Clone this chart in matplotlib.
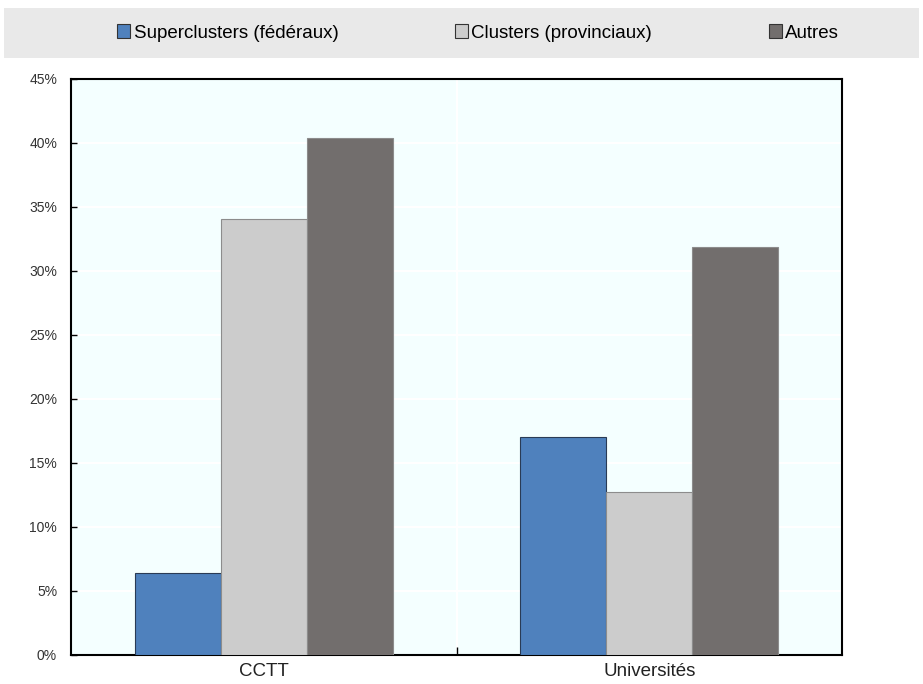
import numpy as np
import matplotlib.pyplot as plt
from matplotlib.patches import Rectangle, Patch
from matplotlib.ticker import MultipleLocator, PercentFormatter

plt.rcParams['font.family'] = ['Liberation Sans', 'DejaVu Sans']

categories = ['CCTT', 'Universités']
series = ['Superclusters (fédéraux)', 'Clusters (provinciaux)', 'Autres']
superclusters = [6.4, 17.0]
clusters = [34.1, 12.7]
autres = [40.4, 31.9]

colors = ['#4F81BD', '#CCCCCC', '#726E6D']
edges = ['#2A3B55', '#8C8C8C', '#8C8C8C']

fig = plt.figure(figsize=(9.23, 6.84), dpi=100)
ax = fig.add_axes([71 / 923, 1 - 655 / 684, 771 / 923, 576 / 684])
ax.set_facecolor('#F4FFFF')

x = np.arange(len(categories))
width = 0.223
for i, (vals, c, ec) in enumerate(zip([superclusters, clusters, autres], colors, edges)):
    ax.bar(x + (i - 1) * width, vals, width, color=c, edgecolor=ec, linewidth=0.8, zorder=3)

ax.set_xlim(-0.5, 1.5)
ax.set_ylim(0, 45)
ax.yaxis.set_major_locator(MultipleLocator(5))
ax.yaxis.set_major_formatter(PercentFormatter(decimals=0))
ax.set_xticks(x)
ax.set_xticklabels(categories, fontsize=13.5, color='#222222')
ax.tick_params(axis='x', length=0, pad=6)
ax.set_xticks([0.5], minor=True)
ax.tick_params(axis='x', which='minor', direction='in', length=6, width=1, color='black')
ax.tick_params(axis='y', direction='in', length=4, width=1, labelsize=10, colors='black', labelcolor='#333333', pad=10)

ax.grid(axis='y', color='white', linewidth=1.5, zorder=1)
ax.axvline(0.5, color='white', linewidth=1.5, zorder=1)
for s in ax.spines.values():
    s.set_linewidth(1.5)
    s.set_color('black')

# grey band behind the legend
fig.patches.append(Rectangle((4 / 923, 1 - 58 / 684), 915 / 923, 50 / 684,
                             transform=fig.transFigure, facecolor='#E9E9E9', edgecolor='none', zorder=0))
handles = [Patch(facecolor=c, edgecolor='#333333', linewidth=0.8) for c in colors]
fig.legend(handles, series, loc='center', bbox_to_anchor=(478 / 923, 1 - 33 / 684), ncol=3, frameon=False,
           fontsize=13.5, handlelength=0.7, handleheight=0.7, handletextpad=0.2, columnspacing=6.2)

fig.savefig('out.png', dpi=100)
